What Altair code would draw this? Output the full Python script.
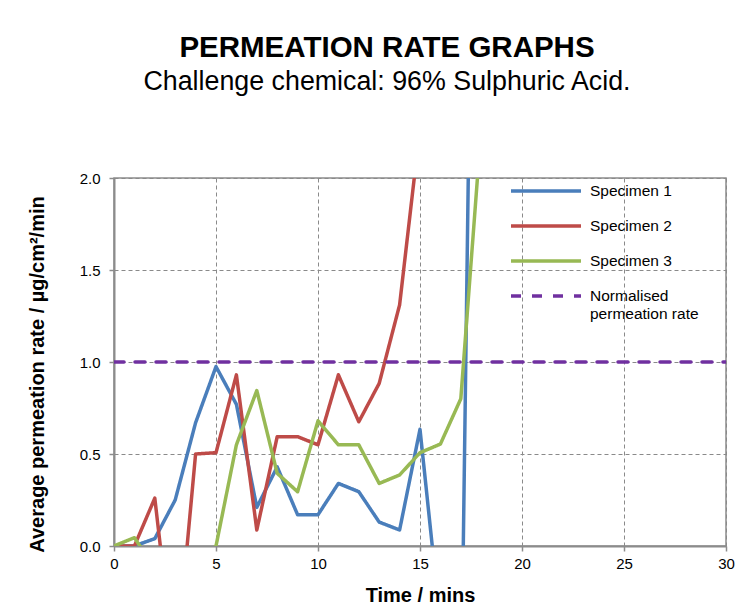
import altair as alt
import pandas as pd

# ---- data ----
times = list(range(0, 19))
specimen_1 = [0.0, 0.0, 0.04, 0.25, 0.67, 0.975, 0.77, 0.21, 0.43, 0.17, 0.17,
              0.34, 0.295, 0.13, 0.087, 0.634, -0.42, -1.0, 7.2]
specimen_2 = [0.0, 0.0, 0.26, -0.7, 0.50, 0.507, 0.93, 0.087, 0.594, 0.594, 0.55,
              0.93, 0.675, 0.884, 1.31, 2.27, None, None, None]
specimen_3 = [0.0, 0.045, -0.12, -0.1, -0.1, 0.0, 0.55, 0.845, 0.395, 0.295, 0.68,
              0.55, 0.55, 0.34, 0.386, 0.507, 0.554, 0.80, 2.27]
norm_times = [0, 30]
norm_values = [1.0, 1.0]

series_names = ["Specimen 1", "Specimen 2", "Specimen 3", "Normalised permeation rate"]
series_colors = ["#4A7EBB", "#BE4B48", "#98B954", "#7030A0"]
series_dash = [[1, 0], [1, 0], [1, 0], [10, 11]]
series_width = [3.5, 3.5, 3.5, 5]

rows = []
for name, vals in zip(series_names[:3], [specimen_1, specimen_2, specimen_3]):
    for t, v in zip(times, vals):
        if v is not None:
            rows.append({"t": t, "v": v, "series": name})
for t, v in zip(norm_times, norm_values):
    rows.append({"t": t, "v": v, "series": series_names[3]})
df = pd.DataFrame(rows)

FONT = "Liberation Sans"
GRID = "#8a8a8a"

color = alt.Color("series:N", scale=alt.Scale(domain=series_names, range=series_colors),
                  legend=alt.Legend(
                      title=None, orient="none", legendX=395, legendY=5,
                      symbolType="stroke", symbolSize=4900, labelFontSize=15.5,
                      labelFont=FONT, labelColor="#000000", labelOffset=7,
                      clipHeight=16, rowPadding=18, padding=0, labelLimit=300,
                      labelExpr="datum.label == 'Normalised permeation rate' ? ['Normalised', 'permeation rate'] : datum.label"))
dash = alt.StrokeDash("series:N", scale=alt.Scale(domain=series_names, range=series_dash), legend=None)
width_enc = alt.StrokeWidth("series:N", scale=alt.Scale(domain=series_names, range=series_width), legend=None)

x = alt.X("t:Q", scale=alt.Scale(domain=[0, 30], nice=False),
          axis=alt.Axis(title="Time / mins", values=[0, 5, 10, 15, 20, 25, 30],
                        labelFlush=False, titlePadding=14))
y = alt.Y("v:Q", scale=alt.Scale(domain=[0, 2], nice=False),
          axis=alt.Axis(title="Average permeation rate / µg/cm²/min",
                        values=[0, 0.5, 1.0, 1.5, 2.0], format=".1f",
                        labelFlush=False, titleX=-77, titleY=196,
                        titleBaseline="middle", titleAlign="center"))

base = alt.Chart(df).encode(x=x, y=y, color=color, strokeDash=dash, strokeWidth=width_enc,
                            detail="series:N")

specimens = base.transform_filter(alt.datum.series != series_names[3]).mark_line(
    clip=True, strokeCap="round", strokeJoin="round")
normal = base.transform_filter(alt.datum.series == series_names[3]).mark_line(
    clip=True, strokeCap="round")

chart = alt.layer(specimens, normal).properties(
    width=612, height=368,
    autosize=alt.AutoSizeParams(type="none"),
    padding={"left": 106, "top": 170, "right": 20, "bottom": 62},
    title=alt.TitleParams(
        text="PERMEATION RATE GRAPHS",
        subtitle="Challenge chemical: 96% Sulphuric Acid.",
        font=FONT, fontSize=29.5, fontWeight="bold", color="#000000",
        subtitleFont=FONT, subtitleFontSize=26.8, subtitleColor="#000000",
        subtitlePadding=6, anchor="middle", dx=-33, offset=74),
).configure_view(
    stroke="#8c8c8c", strokeWidth=1.5
).configure_axis(
    labelFont=FONT, labelFontSize=15, labelColor="#000000",
    titleFont=FONT, titleFontSize=20, titleFontWeight="bold", titleColor="#000000",
    domainColor="#8c8c8c", domainWidth=2, tickColor="#8c8c8c", tickWidth=1.5,
    tickSize=5, labelPadding=5,
    gridColor=GRID, gridDash=[4, 3], gridWidth=1, gridOpacity=1
).configure_axisY(labelPadding=9)

chart.save("out.html", embed_options={"renderer": "svg", "actions": False})
